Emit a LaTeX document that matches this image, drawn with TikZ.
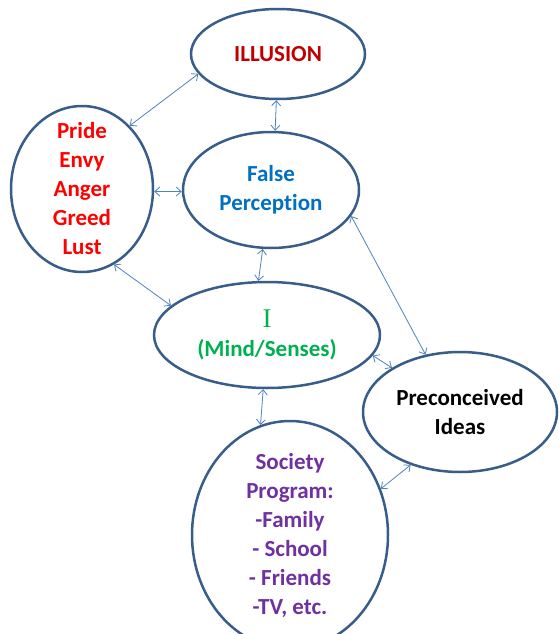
\documentclass[tikz,border=0pt]{standalone}
\usepackage{fontspec}
\setmainfont{Carlito}[Ligatures=NoCommon]
\newfontfamily\romanI{Liberation Serif}
\usetikzlibrary{shapes.geometric,arrows.meta}
\definecolor{rim}{RGB}{56,93,138}
\definecolor{wire}{RGB}{79,129,189}
\definecolor{illusionred}{RGB}{192,0,0}
\definecolor{vicered}{RGB}{255,0,0}
\definecolor{perceptblue}{RGB}{0,112,192}
\definecolor{mindgreen}{RGB}{0,176,80}
\definecolor{societypurple}{RGB}{112,48,160}

\begin{document}
\begin{tikzpicture}[
 x=1pt,
 y=-1pt,
 >={Straight Barb[length=5pt,width=9pt]},
 bubble/.style={
  ellipse,
  draw=rim,
  line width=2.5pt,
  inner sep=-20pt,
  align=center,
  font=\bfseries\fontsize{23}{29}\selectfont,
 },
 link/.style={
  <->,
  draw=wire,
  line width=0.8pt,
 }
]
\useasboundingbox (0,0) rectangle (558,634);

\node at (278,54) [bubble,minimum width=174,minimum height=90,text=illusionred] (illusion) {ILLUSION};
\node at (82,189) [bubble,minimum width=142,minimum height=166,text=vicered] (vices) {Pride\\Envy\\Anger\\Greed\\Lust};
\node at (271,190) [bubble,minimum width=176,minimum height=116,text=perceptblue] (perception) {False\\Perception};
\node at (267,335) [bubble,minimum width=226,minimum height=106,text=mindgreen] (mind) {{\mdseries\romanI\fontsize{27}{29}\selectfont I}\\(Mind/Senses)};
\node at (460,412) [bubble,minimum width=194,minimum height=120] (ideas) {Preconceived\\Ideas};
\node at (290,535) [bubble,minimum width=196,minimum height=228,text=societypurple] (society) {Society\\Program:\\-Family\\- School\\- Friends\\-TV, etc.};

\draw[link] (vices.53) -- (illusion.194);
\draw[link] (illusion.268) -- (perception.86);
\draw[link] (vices.358) -- (perception.181);
\draw[link] (perception.262) -- (mind.99);
\draw[link] (vices.293) -- (mind.163);
\draw[link] (perception.342) -- (ideas.121);
\draw[link] (mind.349) -- (ideas.147);
\draw[link] (mind.266) -- (society.105);
\draw[link] (society.27) -- (ideas.227);

\end{tikzpicture}
\end{document}
